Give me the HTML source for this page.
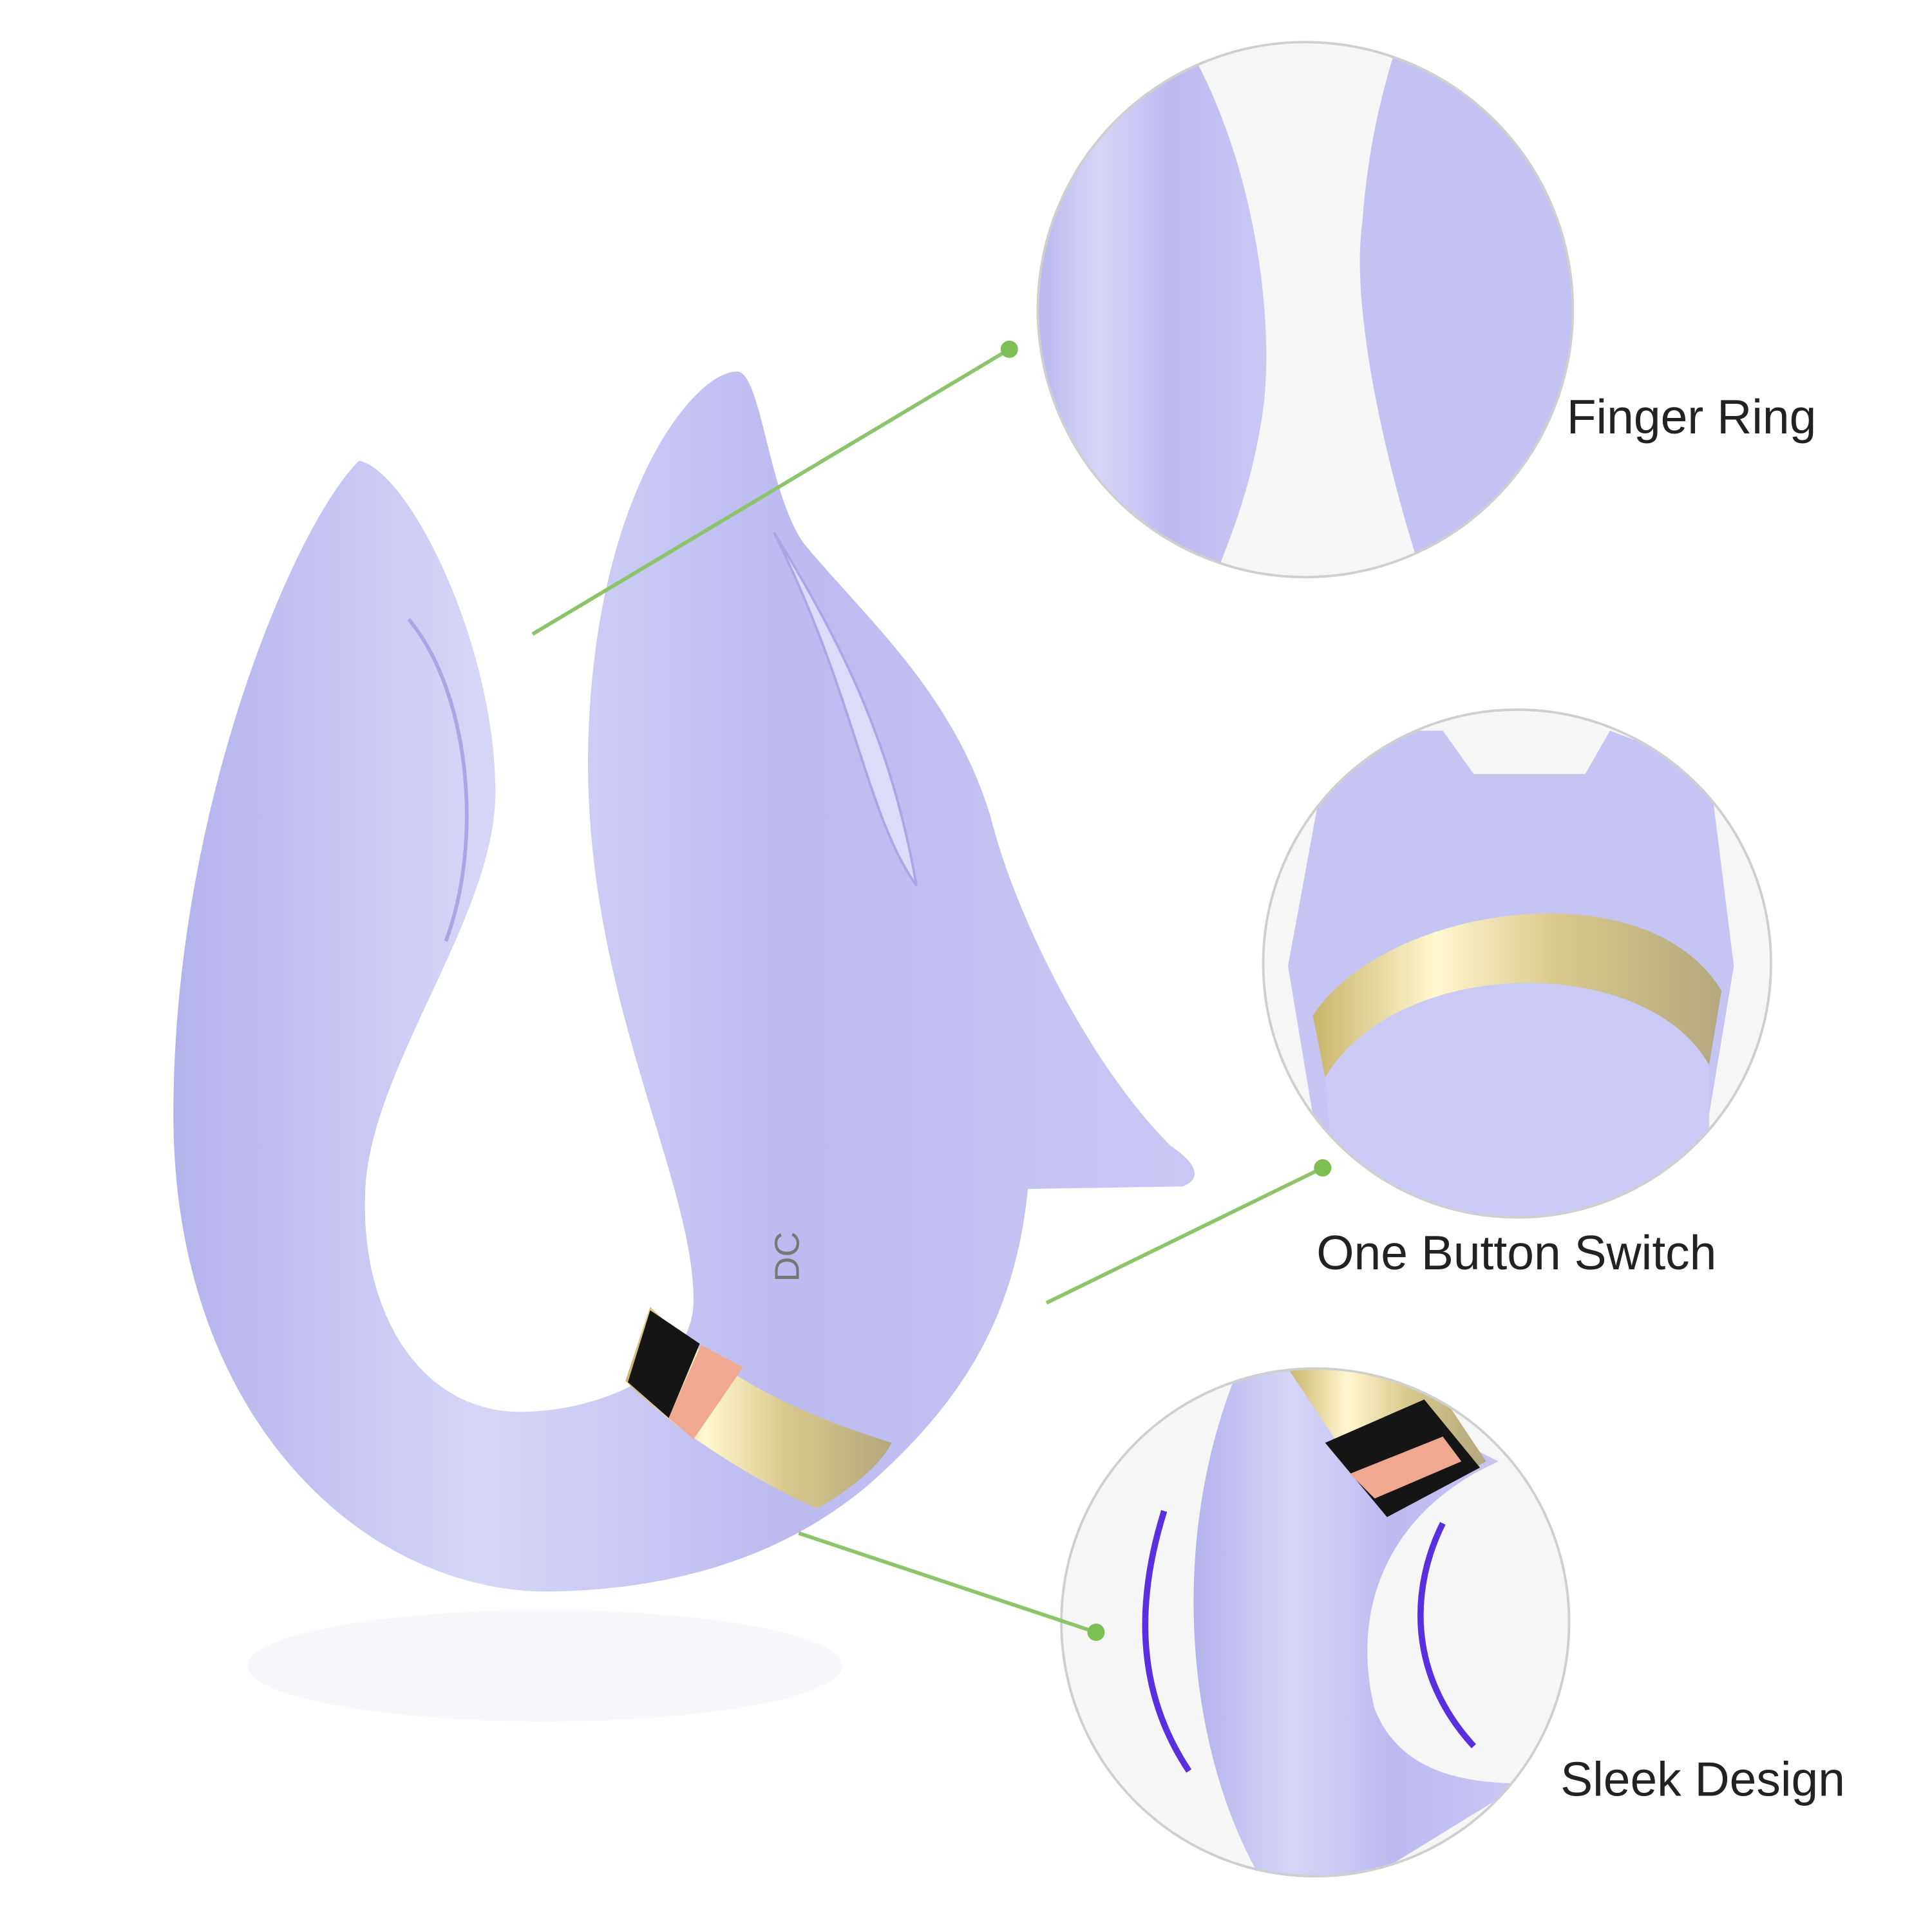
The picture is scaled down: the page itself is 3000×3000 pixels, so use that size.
<!DOCTYPE html>
<html><head><style>html,body{margin:0;padding:0;background:#fff}svg{display:block}</style></head>
<body>
<svg width="3000" height="3000" viewBox="0 0 1560 1560" xmlns="http://www.w3.org/2000/svg">
<defs>
<linearGradient id="lav" x1="0" y1="0" x2="1" y2="0">
<stop offset="0" stop-color="#b4b2ec"/><stop offset="0.3" stop-color="#d6d6f8"/><stop offset="0.6" stop-color="#bdbaf0"/><stop offset="1" stop-color="#c9c8f4"/></linearGradient>
<linearGradient id="gold" x1="0" y1="0" x2="1" y2="0">
<stop offset="0" stop-color="#c9b56a"/><stop offset="0.3" stop-color="#fff7d0"/><stop offset="0.6" stop-color="#d8c98c"/><stop offset="1" stop-color="#b3a87e"/></linearGradient>
<clipPath id="c1"><circle cx="1054" cy="250" r="216"/></clipPath>
<clipPath id="c2"><circle cx="1225" cy="778" r="205"/></clipPath>
<clipPath id="c3"><circle cx="1062" cy="1310" r="205"/></clipPath>
</defs>
<rect width="1560" height="1560" fill="#fff"/>
<ellipse cx="440" cy="1345" rx="240" ry="45" fill="#f8f7fc"/>
<path d="M290,372 C240,420 140,650 140,900 C140,1150 300,1290 450,1285 C560,1282 640,1250 700,1200 C780,1130 820,1060 830,960 L955,958 C975,950 960,935 945,925 C880,860 820,740 800,660 C770,560 700,500 650,440 C620,400 615,300 595,300 C560,300 480,400 475,600 C470,800 560,950 560,1050 C560,1110 480,1140 420,1140 C340,1140 290,1060 295,960 C300,860 400,740 400,640 C400,520 330,380 290,372 Z" fill="url(#lav)"/>
<path d="M625,430 C680,520 720,600 740,715 C700,660 690,560 625,430Z" fill="#dcdcfa" stroke="#aaa7e4" stroke-width="2"/>
<path d="M330,500 C380,560 390,680 360,760" fill="none" stroke="#a9a6e2" stroke-width="3"/>
<path d="M525,1055 L505,1115 C560,1170 640,1210 660,1218 C700,1195 715,1175 720,1165 C640,1140 580,1110 525,1055Z" fill="url(#gold)"/>
<path d="M525,1058 L507,1116 L540,1145 L565,1085Z" fill="#151515"/>
<path d="M566,1086 L540,1145 L560,1162 L600,1104Z" fill="#f0a990"/>
<text x="605" y="1045" font-family="Liberation Sans, sans-serif" font-size="28" fill="#777" transform="rotate(-90 620 1020)">DC</text>
<g clip-path="url(#c1)">
<rect x="830" y="30" width="450" height="450" fill="#f6f6f6"/>
<path d="M830,30 L955,30 C1010,120 1030,250 1020,330 C1010,400 990,440 980,470 L830,470Z" fill="url(#lav)"/>
<path d="M1130,30 L1280,30 L1280,470 L1150,470 C1120,380 1090,250 1100,180 C1105,110 1120,60 1130,30Z" fill="#c4c2f2"/>
</g>
<circle cx="1054" cy="250" r="216" fill="none" stroke="#cfcfcf" stroke-width="2"/>
<g clip-path="url(#c2)">
<rect x="1015" y="570" width="420" height="420" fill="#f6f6f6"/>
<path d="M1075,590 L1165,590 L1190,625 L1280,625 L1300,590 L1380,620 L1400,780 L1380,900 L1330,990 L1100,990 L1060,900 L1040,780 Z" fill="#c6c4f3"/>
<path d="M1060,820 C1120,730 1330,700 1390,800 L1380,860 C1330,770 1130,770 1070,870Z" fill="url(#gold)"/>
<path d="M1070,870 C1130,770 1330,770 1380,860 L1380,990 L1080,990Z" fill="#cbcaf6"/>
</g>
<circle cx="1225" cy="778" r="205" fill="none" stroke="#cfcfcf" stroke-width="2"/>
<g clip-path="url(#c3)">
<rect x="855" y="1100" width="420" height="420" fill="#f6f6f6"/>
<path d="M1000,1105 L1060,1105 L1210,1180 C1120,1220 1090,1300 1110,1380 C1130,1430 1180,1440 1230,1440 L1100,1520 L1020,1520 C960,1420 940,1250 1000,1105Z" fill="url(#lav)"/>
<path d="M1040,1105 L1150,1105 L1200,1180 L1120,1225Z" fill="url(#gold)"/>
<path d="M1070,1165 L1150,1130 L1195,1185 L1120,1225Z" fill="#151515"/>
<path d="M1090,1190 L1165,1160 L1180,1180 L1110,1210Z" fill="#f0a990"/>
<path d="M940,1220 C915,1300 920,1370 960,1430" fill="none" stroke="#5a2fe0" stroke-width="5"/>
<path d="M1165,1230 C1140,1280 1135,1350 1190,1410" fill="none" stroke="#5a2fe0" stroke-width="5"/>
</g>
<circle cx="1062" cy="1310" r="205" fill="none" stroke="#cfcfcf" stroke-width="2"/>
<g stroke="#8cc46a" stroke-width="3" fill="#7bbf55">
<line x1="430" y1="512" x2="815" y2="282"/><circle cx="815" cy="282" r="7" stroke="none"/>
<line x1="845" y1="1052" x2="1068" y2="943"/><circle cx="1068" cy="943" r="7" stroke="none"/>
<line x1="645" y1="1238" x2="885" y2="1318"/><circle cx="885" cy="1318" r="7" stroke="none"/>
</g>
<g font-family="Liberation Sans, sans-serif" font-size="39" fill="#222">
<text x="1265" y="350">Finger Ring</text>
<text x="1063" y="1025">One Button Switch</text>
<text x="1260" y="1450">Sleek Design</text>
</g>
</svg>
</body></html>
